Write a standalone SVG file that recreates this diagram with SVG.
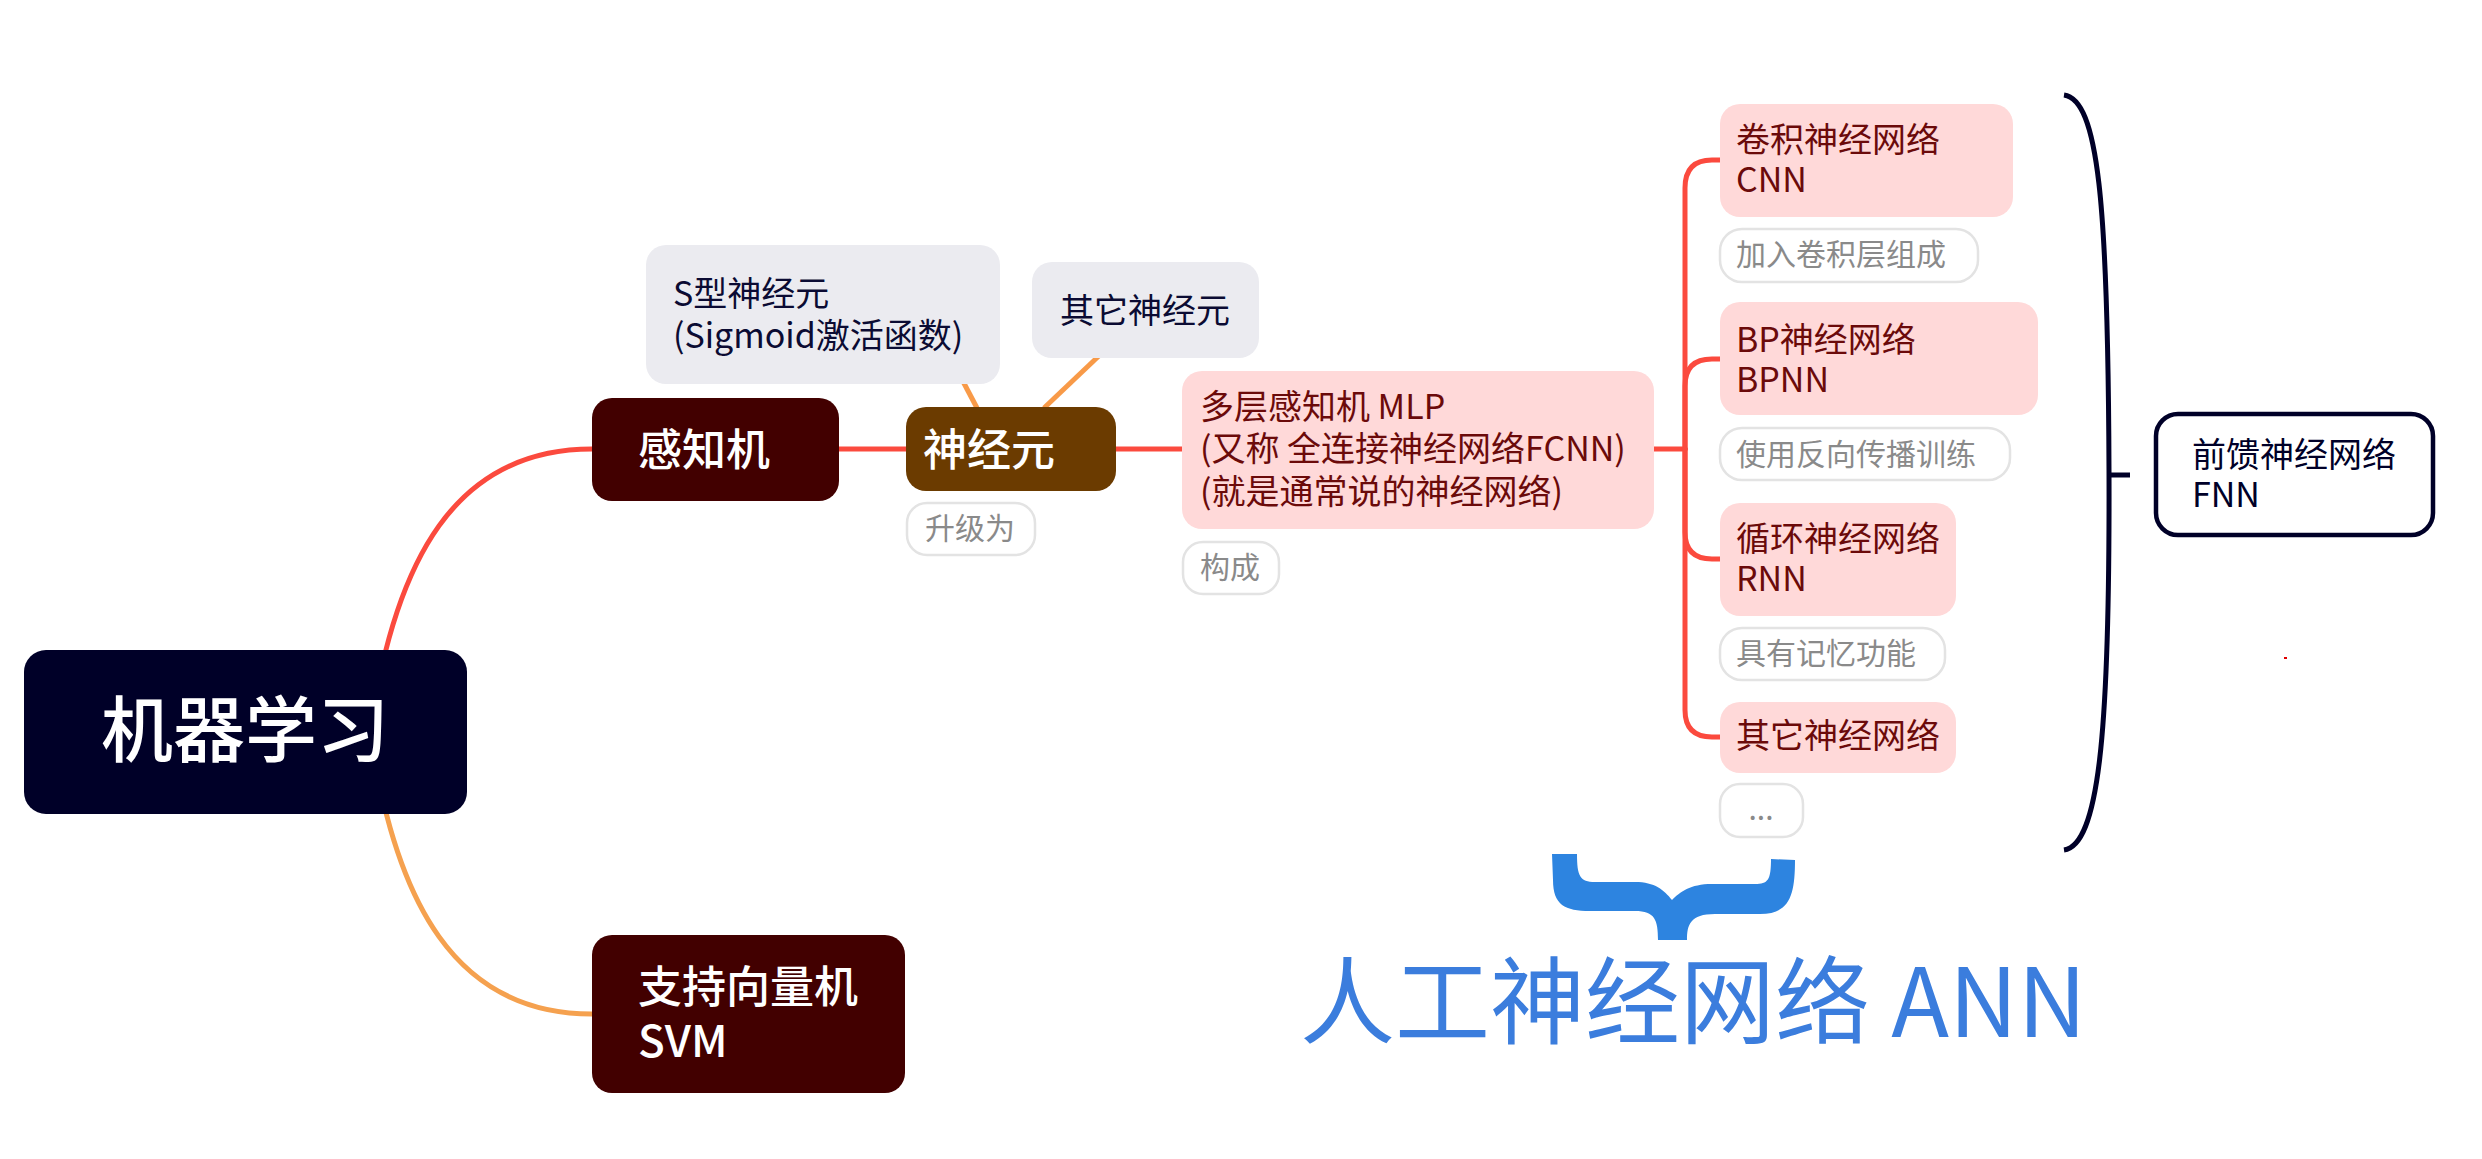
<svg xmlns="http://www.w3.org/2000/svg" width="2482" height="1159" viewBox="0 0 2482 1159">
<style>
text{font-family:"Noto Sans CJK SC","Noto Sans",sans-serif}
.root{fill:#000028}
.dark{fill:#420000}
.neuron{fill:#6b3b00}
.white{fill:#ffffff;font-size:44px;font-weight:500}
.gray{fill:#ebebf0}
.navy{fill:#0b0b33;font-size:34px}
.pink{fill:#ffd9d9}
.red{fill:#6b0a0a;font-size:34px}
.pill{fill:#ffffff;stroke:#e3e3e3;stroke-width:2.5}
.pt{fill:#8a8a8a;font-size:30px}
.lr{fill:none;stroke:#fb4a3e;stroke-width:5;stroke-linecap:round}
.lo{fill:none;stroke:#f89a48;stroke-width:5}
</style>
<g id="connectors">
<path class="lr" d="M370 731 C395 560 455 449 592 449"/>
<path class="lo" style="stroke:#f5a14f" d="M370 731 C395 902 455 1014 592 1014"/>
<path class="lr" d="M839 449 L906 449"/>
<path class="lr" d="M1116 449 L1183 449"/>
<path class="lo" d="M957 370 L977 408"/>
<path class="lo" d="M1103 352 L1044 408"/>
<path class="lr" d="M1654 449 L1685 449"/>
<path class="lr" d="M1685 449 L1685 188 Q1685 160 1712 160 L1720 160"/>
<path class="lr" d="M1685 449 L1685 386 Q1685 359 1712 359 L1720 359"/>
<path class="lr" d="M1685 449 L1685 532 Q1685 559 1712 559 L1720 559"/>
<path class="lr" d="M1685 449 L1685 710 Q1685 737 1712 737 L1720 737"/>
</g>
<g id="root">
<rect class="root" x="24" y="650" width="443" height="164" rx="22"/>
<text x="245" y="756" text-anchor="middle" style="fill:#fff;font-size:72px;font-weight:500">机器学习</text>
</g>
<g id="perceptron">
<rect class="dark" x="592" y="398" width="247" height="103" rx="20"/>
<text class="white" x="638" y="466">感知机</text>
</g>
<g id="svm">
<rect class="dark" x="592" y="935" width="313" height="158" rx="20"/>
<text class="white" x="638" y="1003">支持向量机</text>
<text class="white" x="638" y="1057">SVM</text>
</g>
<g id="neuron">
<rect class="neuron" x="906" y="407" width="210" height="84" rx="20"/>
<text class="white" x="923" y="466">神经元</text>
</g>
<g id="label-upgrade">
<rect class="pill" x="907" y="503" width="128" height="52" rx="20"/>
<text class="pt" x="925" y="539">升级为</text>
</g>
<g id="sigmoid">
<rect class="gray" x="646" y="245" width="354" height="139" rx="20"/>
<text class="navy" x="673" y="306">S型神经元</text>
<text class="navy" x="673" y="348">(Sigmoid激活函数)</text>
</g>
<g id="other-neuron">
<rect class="gray" x="1032" y="262" width="227" height="96" rx="20"/>
<text class="navy" x="1060" y="323">其它神经元</text>
</g>
<g id="mlp">
<rect class="pink" x="1182" y="371" width="472" height="158" rx="20"/>
<text class="red" x="1200" y="419">多层感知机 MLP</text>
<text class="red" x="1200" y="461">(又称 全连接神经网络FCNN)</text>
<text class="red" x="1200" y="504">(就是通常说的神经网络)</text>
</g>
<g id="label-compose">
<rect class="pill" x="1183" y="542" width="96" height="52" rx="20"/>
<text class="pt" x="1200" y="578">构成</text>
</g>
<g id="cnn">
<rect class="pink" x="1720" y="104" width="293" height="113" rx="20"/>
<text class="red" x="1736" y="152">卷积神经网络</text>
<text class="red" x="1736" y="192">CNN</text>
</g>
<g id="label-cnn">
<rect class="pill" x="1720" y="229" width="258" height="53" rx="22"/>
<text class="pt" x="1736" y="265">加入卷积层组成</text>
</g>
<g id="bpnn">
<rect class="pink" x="1720" y="302" width="318" height="113" rx="20"/>
<text class="red" x="1736" y="352">BP神经网络</text>
<text class="red" x="1736" y="392">BPNN</text>
</g>
<g id="label-bp">
<rect class="pill" x="1720" y="428" width="290" height="52" rx="22"/>
<text class="pt" x="1736" y="465">使用反向传播训练</text>
</g>
<g id="rnn">
<rect class="pink" x="1720" y="503" width="236" height="113" rx="20"/>
<text class="red" x="1736" y="551">循环神经网络</text>
<text class="red" x="1736" y="591">RNN</text>
</g>
<g id="label-rnn">
<rect class="pill" x="1720" y="628" width="225" height="52" rx="22"/>
<text class="pt" x="1736" y="664">具有记忆功能</text>
</g>
<g id="other-nn">
<rect class="pink" x="1720" y="702" width="236" height="71" rx="20"/>
<text class="red" x="1736" y="748">其它神经网络</text>
</g>
<g id="label-more">
<rect class="pill" x="1720" y="784" width="83" height="53" rx="20"/>
<text class="pt" x="1761" y="820" text-anchor="middle">...</text>
</g>
<g id="fnn-brace">
<path d="M2064 95 C2098 100 2108 200 2109 470 C2110 740 2098 845 2064 850" fill="none" stroke="#000028" stroke-width="5"/>
<path d="M2109 475 L2130 475" fill="none" stroke="#000028" stroke-width="5"/>
</g>
<g id="fnn">
<rect x="2156" y="414" width="277" height="121" rx="22" fill="#fff" stroke="#000028" stroke-width="4.5"/>
<text x="2192" y="467" style="fill:#000028;font-size:34px">前馈神经网络</text>
<text x="2192" y="507" style="fill:#000028;font-size:34px">FNN</text>
</g>
<rect x="2284" y="657" width="3" height="2" fill="#e00000"/>
<g id="ann">
<path fill="#2d84e0" d="M1552 854 L1553 880 C1553 905 1565 911 1590 911 L1635 911 C1655 911 1658 920 1658 940 L1687 940 C1687 925 1690 914 1715 914 L1760 914 C1790 914 1795 895 1795 860 L1771 859 C1771 880 1768 884 1755 884 L1712 884 C1690 884 1680 892 1672 900 C1664 890 1655 882 1635 882 L1595 882 C1580 882 1577 876 1577 854 Z"/>
<text x="1300" y="1037" style="fill:#3b7ddd;font-size:95px">人工神经网络 ANN</text>
</g>
</svg>
